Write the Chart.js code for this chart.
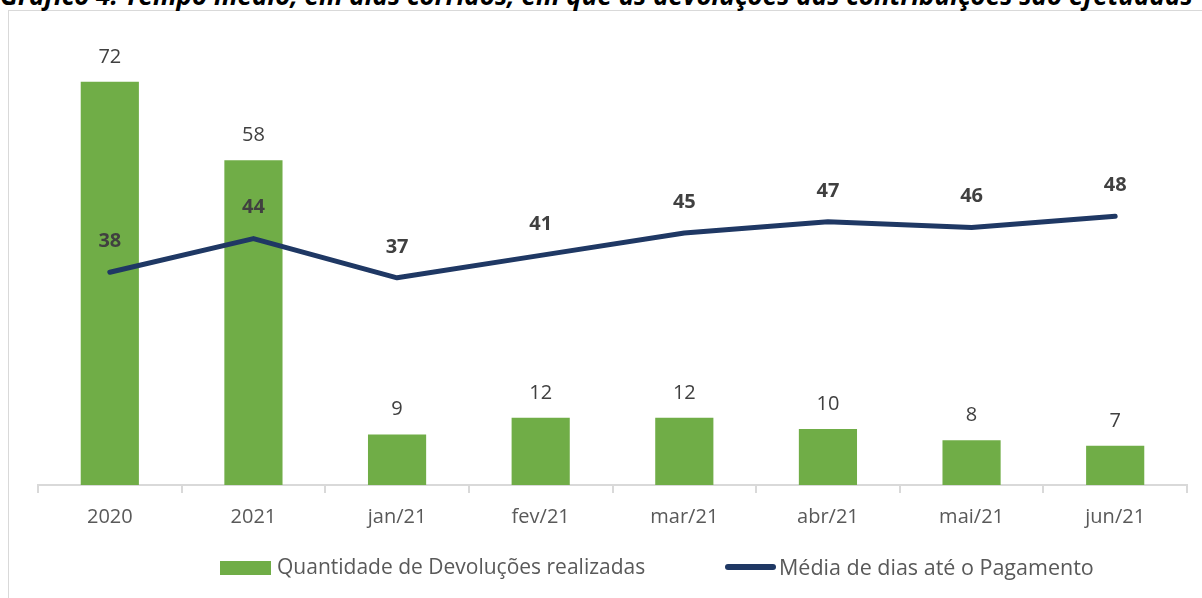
<!DOCTYPE html>
<html>
<head>
<meta charset="utf-8">
<script src="https://cdn.jsdelivr.net/npm/chart.js@4"></script>
<style>
  body { margin: 0; background: #fff; width: 1202px; height: 598px; overflow: hidden; position: relative; font-family: "Open Sans", sans-serif; }
  #frame { position: absolute; left: 8px; top: 10px; width: 1300px; height: 700px; border: 1px solid #d9d9d9; box-sizing: border-box; }
  #title { position: absolute; left: 0; top: -18px; font-size: 26px; line-height: 26px; font-weight: bold; font-style: italic; color: #000; white-space: nowrap; }
  canvas { position: absolute; left: 0; top: 0; }
  .leg { position: absolute; font-size: 21px; line-height: 21px; color: #595959; white-space: nowrap; }
  #boxBar { position: absolute; left: 220px; top: 561px; width: 51px; height: 14px; background: #70ad47; }
  #boxLine { position: absolute; left: 725px; top: 564px; width: 51px; height: 6px; border-radius: 3px; background: #1f3864; }
</style>
</head>
<body>
<div id="frame"></div>
<div id="title">Gráfico 4: Tempo médio, em dias corridos, em que as devoluções das contribuições são efetuadas</div>
<canvas id="chart" width="1202" height="598"></canvas>
<div id="boxBar"></div>
<div class="leg" style="left:277px; top:556px;">Quantidade de Devoluções realizadas</div>
<div id="boxLine"></div>
<div class="leg" style="left:779px; top:556px; font-size:21.5px;">Média de dias até o Pagamento</div>
<script>
// chart data
const categories = ["2020", "2021", "jan/21", "fev/21", "mar/21", "abr/21", "mai/21", "jun/21"];
const devolucoes = [72, 58, 9, 12, 12, 10, 8, 7];
const mediaDias = [38, 44, 37, 41, 45, 47, 46, 48];

// draw the numbers above bars and line points
const valueLabels = {
  id: "valueLabels",
  afterDatasetsDraw(chart) {
    const ctx = chart.ctx;
    ctx.save();
    ctx.textAlign = "center";
    ctx.textBaseline = "middle";
    ctx.fillStyle = "#404040";
    chart.data.datasets.forEach((ds, i) => {
      const meta = chart.getDatasetMeta(i);
      meta.data.forEach((el, j) => {
        if (ds.type === "line") {
          ctx.font = "bold 20px 'Open Sans'";
          ctx.fillText(ds.data[j], el.x, el.y - 31);
        } else {
          ctx.font = "20px 'Open Sans'";
          ctx.fillText(ds.data[j], el.x, el.y - 25);
        }
      });
    });
    ctx.restore();
  }
};

const chart = new Chart(document.getElementById("chart"), {
  data: {
    labels: categories,
    datasets: [
      {
        type: "line",
        label: "Média de dias até o Pagamento",
        data: mediaDias,
        borderColor: "#1f3864",
        borderWidth: 5,
        borderCapStyle: "round",
        borderJoinStyle: "round",
        tension: 0,
        pointRadius: 0,
        order: 0,
      },
      {
        type: "bar",
        label: "Quantidade de Devoluções realizadas",
        data: devolucoes,
        backgroundColor: "#70ad47",
        barPercentage: 0.405,
        categoryPercentage: 1,
        order: 1,
      },
    ],
  },
  options: {
    responsive: false,
    animation: false,
    devicePixelRatio: 1,
    layout: { padding: { left: 38, right: 15, top: 37, bottom: 57 } },
    plugins: { legend: { display: false }, tooltip: { enabled: false } },
    scales: {
      x: {
        grid: { offset: true, drawOnChartArea: false, drawTicks: true, tickLength: 8, color: "#d9d9d9", lineWidth: 2 },
        border: { color: "#d9d9d9", width: 2 },
        ticks: { color: "#595959", font: { family: "Open Sans", size: 20 }, padding: 12 },
      },
      y: { display: false, min: 0, max: 80 },
    },
  },
  plugins: [valueLabels],
});
</script>
</body>
</html>
